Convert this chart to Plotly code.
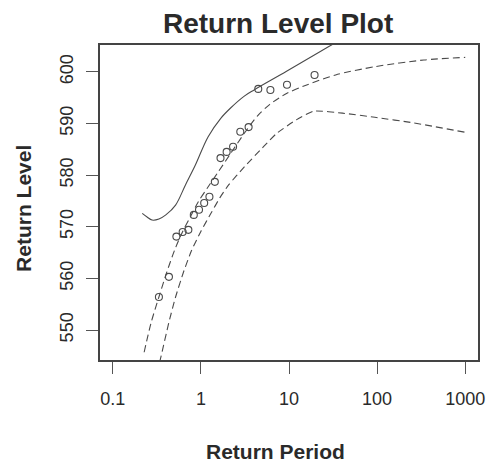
import plotly.graph_objects as go

# Empirical return periods and sorted observed maxima
obs_period = [0.334, 0.434, 0.527, 0.621, 0.721, 0.831, 0.952, 1.09, 1.25, 1.44,
              1.67, 1.96, 2.32, 2.80, 3.48, 4.48, 6.15, 9.49, 19.5]
obs_level = [556.4, 560.3, 568.1, 569.0, 569.4, 572.3, 573.3, 574.6, 575.8, 578.7,
             583.3, 584.5, 585.5, 588.4, 589.3, 596.7, 596.5, 597.5, 599.4]

# Fitted return level curve
fit_period = [0.227, 0.272, 0.334, 0.410, 0.504, 0.618, 0.759, 0.932, 1.205, 1.556,
              2.118, 3.11, 4.345, 6.06, 9.38, 14.5, 33.8, 94.3, 340, 1000]
fit_level = [545.7, 551.4, 556.4, 561.2, 565.5, 569.0, 571.9, 574.8, 577.7, 580.5,
             583.9, 588.1, 591.4, 593.7, 595.8, 597.2, 599.4, 601.0, 602.3, 602.8]

# Upper confidence bound
upper_period = [0.216, 0.245, 0.279, 0.334, 0.400, 0.516, 0.668, 0.863, 1.205, 1.681,
                2.173, 3.11, 4.02, 9.38, 28.3, 94.3, 1000]
upper_level = [572.6, 571.9, 571.3, 571.5, 572.3, 574.2, 578.1, 581.9, 587.4, 591.0,
               593.0, 595.3, 596.5, 600.1, 604.9, 610.0, 619.7]

# Lower confidence bound
lower_period = [0.317, 0.352, 0.432, 0.516, 0.634, 0.779, 1.006, 1.301, 1.639, 2.064,
                3.11, 5.20, 7.26, 12.1, 19.2, 40.5, 94.3, 263, 1000]
lower_level = [541.7, 544.8, 551.4, 556.4, 561.2, 565.3, 569.2, 572.6, 575.6, 578.1,
               581.6, 585.6, 588.1, 590.7, 592.4, 592.0, 591.2, 590.1, 588.3]

x_ticks = [0.1, 1, 10, 100, 1000]
x_tick_text = ["0.1", "1", "10", "100", "1000"]
y_ticks = [550, 560, 570, 580, 590, 600]

line_col = "#4a4a4a"
text_col = "#2a2a2a"
font_family = "Liberation Sans, Arial, sans-serif"

fig = go.Figure()
fig.add_trace(go.Scatter(x=upper_period, y=upper_level, mode="lines",
                         line=dict(color=line_col, width=1.1, shape="spline", smoothing=1.0),
                         hoverinfo="skip"))
fig.add_trace(go.Scatter(x=fit_period, y=fit_level, mode="lines",
                         line=dict(color=line_col, width=1.1, dash="7px,4px",
                                   shape="spline", smoothing=0.8),
                         hoverinfo="skip"))
fig.add_trace(go.Scatter(x=lower_period, y=lower_level, mode="lines",
                         line=dict(color=line_col, width=1.1, dash="7px,4px",
                                   shape="spline", smoothing=0.5),
                         hoverinfo="skip"))
fig.add_trace(go.Scatter(x=obs_period, y=obs_level, mode="markers",
                         marker=dict(symbol="circle-open", size=7, color=line_col,
                                     line=dict(width=1.1, color=line_col))))

fig.update_xaxes(type="log", range=[-1.145, 3.145], tickvals=x_ticks, ticktext=x_tick_text,
                 ticks="outside", ticklen=12, tickwidth=1, tickcolor="#555",
                 showline=True, mirror=True, linecolor="#444", linewidth=1.6,
                 showgrid=False, zeroline=False, ticklabelstandoff=10,
                 tickfont=dict(family=font_family, size=18, color=text_col))
fig.update_yaxes(range=[544.2, 605.2], tickvals=y_ticks, tickangle=-90,
                 ticks="outside", ticklen=12, tickwidth=1, tickcolor="#555",
                 showline=True, mirror=True, linecolor="#444", linewidth=1.6,
                 showgrid=False, zeroline=False, ticklabelstandoff=6,
                 tickfont=dict(family=font_family, size=18, color=text_col))

fig.update_layout(
    width=496, height=463,
    margin=dict(l=100, r=11, t=45, b=103),
    plot_bgcolor="white", paper_bgcolor="white",
    showlegend=False,
    annotations=[
        dict(text="<b>Return Level Plot</b>", xref="paper", yref="paper",
             x=0.470, y=1.068, xanchor="center", yanchor="middle", showarrow=False,
             font=dict(family=font_family, size=28, color=text_col)),
        dict(text="<b>Return Period</b>", xref="paper", yref="paper",
             x=0.4636, y=-0.289, xanchor="center", yanchor="middle", showarrow=False,
             font=dict(family=font_family, size=21, color=text_col)),
        dict(text="<b>Return Level</b>", xref="paper", yref="paper", textangle=-90,
             x=-0.2026, y=0.481, xanchor="center", yanchor="middle", showarrow=False,
             font=dict(family=font_family, size=21, color=text_col)),
    ],
)

fig.write_html("out.html")
